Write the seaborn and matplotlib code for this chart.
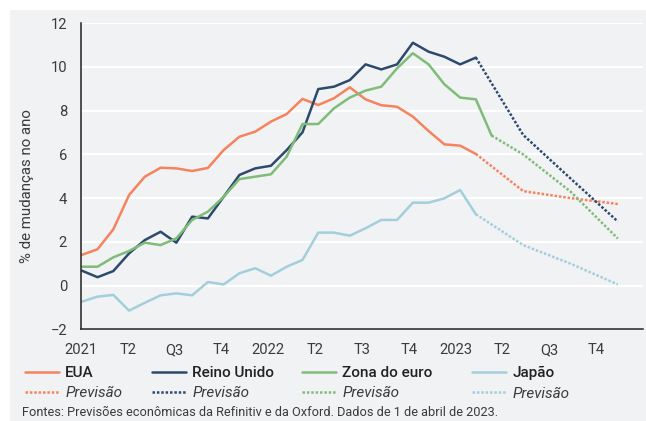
import numpy as np
import pandas as pd
import matplotlib
matplotlib.use("Agg")
import matplotlib.pyplot as plt
from matplotlib.lines import Line2D
from matplotlib.patches import Rectangle
import seaborn as sns

# ---- dados (inflação, % de mudança no ano), mensal a partir de jan/2021 ----
paises = ["EUA", "Reino Unido", "Zona do euro", "Japão"]

eua = [1.40, 1.66, 2.57, 4.14, 4.98, 5.39, 5.36, 5.24, 5.38, 6.20, 6.81, 7.04, 7.50,
       7.85, 8.54, 8.26, 8.57, 9.07, 8.52, 8.25, 8.18, 7.73, 7.07, 6.46, 6.40, 6.02]
reino_unido = [0.68, 0.38, 0.66, 1.47, 2.08, 2.46, 1.96, 3.15, 3.07, 4.06, 5.06, 5.36, 5.48,
               6.20, 7.01, 8.99, 9.10, 9.40, 10.12, 9.89, 10.12, 11.11, 10.70, 10.47, 10.12, 10.43]
zona_euro = [0.86, 0.86, 1.29, 1.58, 1.96, 1.85, 2.16, 3.00, 3.38, 4.06, 4.87, 4.98, 5.09,
             5.90, 7.39, 7.39, 8.11, 8.60, 8.92, 9.10, 9.94, 10.63, 10.12, 9.21, 8.60, 8.52, 6.86]
japao = [-0.74, -0.51, -0.43, -1.15, -0.79, -0.45, -0.36, -0.45, 0.16, 0.05, 0.56, 0.79, 0.45,
         0.86, 1.17, 2.42, 2.42, 2.28, 2.62, 3.00, 3.00, 3.79, 3.79, 3.99, 4.37, 3.26]

# previsões (mês índice, valor)
prev_meses_eua = [25, 28, 31, 34]
prev_eua = [6.02, 4.32, 4.00, 3.73]
prev_meses_ru = [25, 28, 31, 34]
prev_ru = [10.43, 6.89, 4.90, 2.93]
prev_meses_ze = [26, 28, 31, 34]
prev_ze = [6.86, 6.00, 4.30, 2.15]
prev_meses_jp = [25, 28, 31, 34]
prev_jp = [3.26, 1.85, 1.00, 0.05]

rotulos_x = ["2021", "T2", "Q3", "T4", "2022", "T2", "T3", "T4", "2023", "T2", "Q3", "T4", ""]

cores = {"EUA": "#F4835E", "Reino Unido": "#2D4A6D",
         "Zona do euro": "#80BC79", "Japão": "#A3CEDB"}
FUNDO = "#F1F2F4"
TEXTO = "#3b3b3b"

# ---- tabela longa ----
reais = {"EUA": eua, "Reino Unido": reino_unido, "Zona do euro": zona_euro, "Japão": japao}
prevs = {"EUA": (prev_meses_eua, prev_eua), "Reino Unido": (prev_meses_ru, prev_ru),
         "Zona do euro": (prev_meses_ze, prev_ze), "Japão": (prev_meses_jp, prev_jp)}
linhas = []
for p in paises:
    for i, v in enumerate(reais[p]):
        linhas.append({"mes": i, "valor": v, "pais": p, "tipo": "real"})
    for m, v in zip(*prevs[p]):
        linhas.append({"mes": m, "valor": v, "pais": p, "tipo": "prev"})
df = pd.DataFrame(linhas)

# ---- figura ----
sns.set_theme(style="white")
plt.rcParams["font.family"] = ["Roboto", "DejaVu Sans"]

W, H = 646, 421
fig = plt.figure(figsize=(W / 100, H / 100), dpi=100)
fig.patches.append(Rectangle((10 / W, 0), 1, (H - 10) / H, transform=fig.transFigure,
                             facecolor=FUNDO, edgecolor="none", zorder=-10))
ax = fig.add_axes([81 / W, 1 - 329.2 / H, (643 - 81) / W, (329.2 - 23.3) / H])
ax.set_facecolor(FUNDO)

PONTO = (1, 0.75)
sns.lineplot(data=df, x="mes", y="valor", hue="pais", style="tipo", hue_order=paises,
             palette=cores, dashes={"real": "", "prev": PONTO}, linewidth=1.8,
             estimator=None, sort=False, legend=False, ax=ax)

ax.set_ylim(-2, 12)
ax.set_yticks(range(-2, 13, 2))
x0, x1 = -0.05, 35.6
ax.set_xlim(x0, x1)
ax.set_xticks(np.linspace(x0, x1, 13))
ax.set_xticklabels(rotulos_x)
ax.yaxis.grid(True, color="white", linewidth=1.6)
ax.set_axisbelow(True)
for s in ["top", "right"]:
    ax.spines[s].set_visible(False)
for s in ["left", "bottom"]:
    ax.spines[s].set_color("#222222")
    ax.spines[s].set_linewidth(1.1)
ax.tick_params(axis="both", direction="out", length=6, width=1.1, color="#222222",
               labelsize=10.6, labelcolor=TEXTO, pad=4)
ax.set_xlabel("")
ax.set_ylabel("")
fig.text(27.5 / W, 1 - 186 / H, "% de mudanças no ano", rotation=90, ha="center",
         va="center", fontsize=10.8, color=TEXTO)

# ---- legenda: um bloco por país ----
pos_leg = [25, 152, 302, 472]
for p, xp in zip(paises, pos_leg):
    h = [Line2D([], [], color=cores[p], lw=1.8),
         Line2D([], [], color=cores[p], lw=1.8, dashes=PONTO)]
    leg = fig.legend(h, [p, "Previsão"], loc="upper left", bbox_to_anchor=(xp / W, 1 - 366 / H),
                     frameon=False, fontsize=11, handlelength=2.25, handletextpad=0.38,
                     labelspacing=0.42, borderpad=0, borderaxespad=0)
    t0, t1 = leg.get_texts()
    t0.set_fontweight("medium")
    t0.set_color("#222222")
    t1.set_fontstyle("italic")
    t1.set_color(TEXTO)

fig.text(22 / W, 1 - 413 / H,
         "Fontes: Previsões econômicas da Refinitiv e da Oxford. Dados de 1 de abril de 2023.",
         ha="left", va="center", fontsize=9.2, color=TEXTO)

fig.savefig("out.png", dpi=100, facecolor="white")
